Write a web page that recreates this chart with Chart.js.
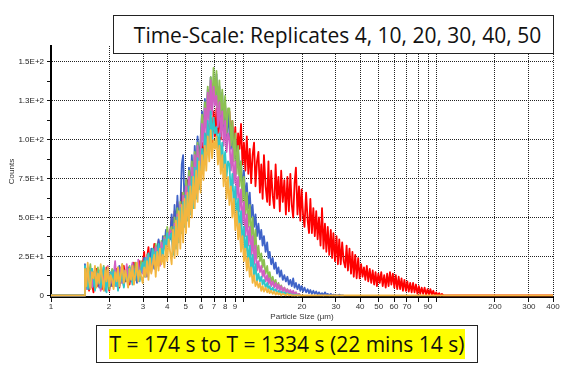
<!DOCTYPE html>
<html>
<head>
<meta charset="utf-8">
<script src="https://cdn.jsdelivr.net/npm/chart.js@4.4.1/dist/chart.umd.min.js"></script>
<style>
  body { margin: 0; background: #fff; width: 570px; height: 371px; overflow: hidden; position: relative; }
  #chart { position: absolute; left: 0; top: 0; }
  .box { position: absolute; box-sizing: border-box; border: 1.5px solid #222; background: #fff;
         display: flex; align-items: center; justify-content: center;
         font-family: "Open Sans", sans-serif; font-size: 21px; color: #111; white-space: nowrap; }
  #titleBox { left: 113px; top: 15px; width: 441px; height: 39px; padding-left: 8px; }
  #timeBox { left: 96px; top: 325px; width: 382px; height: 38px; }
  #timeBox span { background: #ffff00; padding: 1px 1px; }
</style>
</head>
<body>
<canvas id="chart" width="570" height="371"></canvas>
<div class="box" id="titleBox">Time-Scale: Replicates 4, 10, 20, 30, 40, 50</div>
<div class="box" id="timeBox"><span>T = 174 s to T = 1334 s (22 mins 14 s)</span></div>
<script>
// particle size bins (µm)
const sizes = [1.0, 1.49,
  1.50, 1.525, 1.55, 1.575, 1.60, 1.63, 1.66, 1.69, 1.72, 1.75, 1.78, 1.81, 1.84, 1.875, 1.91, 1.94, 1.97, 2.005, 2.04, 2.075,
  2.11, 2.15, 2.19, 2.225, 2.26, 2.30, 2.34, 2.385, 2.43, 2.47, 2.51, 2.555, 2.60, 2.645, 2.69, 2.74, 2.79, 2.835, 2.88, 2.935,
  2.99, 3.04, 3.09, 3.145, 3.20, 3.255, 3.31, 3.37, 3.43, 3.49, 3.55, 3.61, 3.67, 3.735, 3.80, 3.87, 3.94, 4.005, 4.07, 4.145,
  4.22, 4.295, 4.37, 4.445, 4.52, 4.60, 4.68, 4.76, 4.84, 4.925, 5.01, 5.10, 5.19, 5.28, 5.37, 5.465, 5.56, 5.655, 5.75, 5.855,
  5.96, 6.065, 6.17, 6.275, 6.38, 6.495, 6.61, 6.725, 6.84, 6.96, 7.08, 7.205, 7.33, 7.46, 7.59, 7.72, 7.85, 7.99, 8.13, 8.27,
  8.41, 8.56, 8.71, 8.865, 9.02, 9.175, 9.33, 9.495, 9.66, 9.83, 10.0, 10.175, 10.35, 10.535, 10.72, 10.905, 11.09, 11.285, 11.48, 11.685,
  11.89, 12.1, 12.3, 12.5, 12.7, 12.95, 13.2, 13.4, 13.6, 13.85, 14.1, 14.35, 14.6, 14.85, 15.1, 15.35, 15.6, 15.9, 16.2, 16.5,
  16.8, 17.1, 17.4, 17.7, 18.0, 18.3, 18.6, 18.95, 19.3, 19.6, 19.9, 20.25, 20.6, 21.0, 21.4, 21.75, 22.1, 22.5, 22.9, 23.3,
  23.7, 24.1, 24.5, 24.95, 25.4, 25.85, 26.3, 26.75, 27.2, 27.7, 28.2, 28.65, 29.1, 29.65, 30.2, 30.7, 31.2, 31.75, 32.3, 32.9,
  33.5, 34.05, 34.6, 35.25, 35.9, 36.5, 37.1, 37.75, 38.4, 39.1,
  39.8, 40.5, 41.2, 41.9, 42.6, 43.35, 44.1, 44.9, 45.7, 46.5,
  47.3, 48.1, 48.9, 49.75, 50.6, 51.5, 52.4, 53.35, 54.3, 55.25,
  56.2, 57.15, 58.1, 59.15, 60.2, 61.25, 62.3, 63.4, 64.5, 65.6,
  66.7, 67.9, 69.1, 70.3, 71.5, 72.75, 74.0, 75.3, 76.6, 77.95,
  79.3, 80.65, 82.0, 83.45, 84.9, 86.4, 87.9, 89.45, 91.0, 92.6,
  94.2, 95.85, 97.5, 99.25, 101, 102.75, 104.5, 106.25, 108,
  400];

// counts per bin, replicate 4 (red)
const rep4 = [0, 0,
  16, 5, 11, 3, 14, 8, 2, 12, 17, 6, 9, 15, 4, 13, 7, 18, 10, 3, 12, 6,
  14, 8, 17, 10, 5, 15, 12, 19, 9, 13, 18, 7, 16, 11, 21, 13, 17, 10, 22, 15,
  20, 28, 14, 24, 31, 18, 26, 22, 33, 20, 29, 35, 24, 31, 27, 38, 30, 42, 34, 40,
  50, 34, 54, 40, 60, 44, 48, 66, 50, 70, 54, 74, 58, 78, 62, 84, 66, 90, 72, 94,
  84, 98, 86, 104, 90, 110, 94, 114, 98, 118, 102, 120, 104, 116, 100, 120, 106, 122, 104, 116,
  118, 96, 112, 90, 108, 86, 104, 94, 110, 84, 98, 80, 102, 78, 94, 72, 90, 98, 70, 86,
  92, 66, 84, 62, 90, 70, 60, 86, 58, 80, 64, 56, 84, 62, 76, 54, 80, 60, 74, 52,
  76, 54, 78, 58, 50, 72, 82, 52, 70, 48, 68, 52, 44, 66, 48, 40, 62, 40, 56, 38,
  54, 36, 50, 32, 56, 30, 46, 28, 44, 26, 42, 24, 40, 22, 38, 20, 36, 20, 34, 22,
  18, 32, 16, 30, 14, 28, 12, 26, 11, 24,
  11, 20, 12, 18, 10, 19, 9, 17, 8, 16,
  7, 15, 6, 14, 8, 15, 6, 13, 5, 14,
  6, 15, 7, 14, 5, 13, 4, 12, 4, 11,
  3, 10, 3, 9, 2.5, 8, 2, 8, 2, 7,
  1, 6, 1, 5, 1, 5, 0.5, 4, 0.5, 4,
  0.5, 3, 0, 2, 0, 1.5, 0, 1, 0,
  0];

// replicate 10 (blue)
const rep10 = [0, 0,
  20, 7, 14, 4, 12, 17, 6, 13, 9, 16, 5, 11, 15, 8, 3, 13, 18, 9, 6, 14,
  10, 16, 7, 13, 19, 8, 12, 6, 15, 10, 17, 9, 14, 20, 11, 16, 8, 18, 12, 21,
  15, 24, 18, 12, 27, 20, 30, 23, 17, 32, 26, 36, 29, 22, 38, 31, 42, 34, 40, 36,
  52, 36, 58, 42, 64, 46, 54, 84, 90, 56, 74, 58, 82, 66, 90, 70, 96, 80, 102, 86,
  100, 118, 104, 126, 110, 132, 114, 140, 120, 136, 126, 142, 118, 134, 112, 130, 106, 124, 100, 118,
  104, 94, 108, 88, 100, 82, 94, 76, 86, 68, 80, 62, 72, 56, 66, 50, 58, 44, 52, 38,
  46, 36, 42, 32, 38, 28, 34, 24, 28, 20, 24, 17, 21, 14, 18, 12, 16, 10, 13, 9,
  12, 7, 10, 6, 11, 5, 8, 4, 7, 3, 6, 2.5, 5, 2, 4, 1.5, 3.5, 1, 3, 1,
  2.5, 0.5, 2, 0.5, 1.5, 0, 2, 0.5, 1, 0, 1, 0, 0.5, 0, 0, 0, 0.5, 0, 0, 0];

// replicate 20 (green)
const rep20 = [0, 0,
  9, 17, 5, 13, 20, 8, 15, 4, 12, 18, 7, 14, 10, 19, 6, 16, 11, 4, 13, 17,
  8, 15, 11, 18, 6, 14, 20, 10, 16, 9, 13, 19, 12, 17, 8, 21, 14, 18, 11, 22,
  16, 22, 14, 26, 19, 24, 16, 29, 21, 33, 25, 30, 22, 35, 28, 38, 31, 44, 36, 42,
  44, 30, 50, 36, 56, 40, 60, 44, 66, 48, 74, 54, 80, 60, 86, 66, 92, 72, 98, 78,
  96, 116, 100, 124, 108, 134, 114, 140, 122, 146, 126, 144, 120, 138, 116, 132, 110, 128, 104, 120,
  120, 96, 112, 86, 104, 78, 96, 70, 86, 60, 76, 52, 66, 44, 58, 36, 50, 30, 42, 24,
  32, 22, 27, 18, 23, 14, 19, 11, 15, 9, 12, 7, 10, 5, 8, 4, 6.5, 3, 5, 2,
  4, 1.5, 3, 1, 2.5, 0.5, 2, 0, 1, 0];

// replicate 30 (magenta)
const rep30 = [0, 0,
  13, 4, 18, 8, 15, 5, 12, 17, 7, 14, 10, 3, 16, 9, 13, 6, 19, 11, 8, 15,
  12, 22, 6, 14, 10, 18, 8, 16, 11, 20, 7, 15, 12, 21, 9, 17, 13, 23, 10, 18,
  14, 20, 12, 25, 17, 22, 15, 28, 20, 31, 23, 27, 19, 34, 26, 37, 30, 33, 38, 42,
  40, 28, 46, 32, 52, 36, 58, 40, 64, 46, 70, 52, 76, 58, 82, 64, 90, 70, 96, 76,
  90, 110, 96, 120, 104, 130, 110, 138, 116, 134, 122, 128, 108, 124, 102, 118, 96, 112, 92, 104,
  100, 80, 94, 72, 86, 62, 76, 54, 68, 46, 60, 38, 52, 32, 44, 26, 38, 20, 32, 16,
  22, 15, 19, 12, 16, 9, 13, 7, 11, 6, 9, 5, 8, 4, 7, 3, 6, 2.5, 5, 2,
  4, 1.5, 3.5, 1, 3, 0.5, 2, 0, 1, 0];

// replicate 40 (cyan)
const rep40 = [0, 0,
  19, 9, 4, 15, 7, 17, 11, 3, 14, 8, 16, 5, 12, 18, 9, 2, 13, 7, 15, 10,
  16, 6, 13, 3, 14, 9, 17, 5, 15, 11, 8, 18, 12, 7, 16, 10, 20, 13, 9, 17,
  21, 12, 24, 15, 27, 18, 22, 30, 20, 28, 24, 33, 26, 30, 24, 36, 28, 40, 32, 38,
  40, 26, 44, 30, 50, 34, 56, 40, 60, 44, 64, 48, 70, 52, 76, 56, 82, 62, 88, 68,
  74, 94, 80, 104, 88, 112, 92, 118, 100, 114, 104, 108, 94, 104, 88, 98, 82, 92, 76, 86,
  84, 64, 78, 56, 70, 48, 62, 40, 54, 32, 44, 26, 38, 20, 32, 16, 26, 12, 20, 9,
  14, 9, 12, 7, 10, 5, 8, 4, 6, 3, 5, 2.5, 4, 2, 3, 1.5, 2.5, 1, 2, 0.5,
  1.5, 0.5, 1, 0, 0.5, 0, 0.5, 0, 0, 0];

// replicate 50 (orange)
const rep50 = [0, 0,
  17, 6, 21, 9, 4, 15, 11, 19, 5, 14, 8, 20, 12, 3, 16, 9, 18, 6, 13, 10,
  4, 15, 9, 18, 6, 13, 20, 8, 16, 11, 5, 17, 10, 19, 7, 14, 21, 9, 16, 12,
  8, 18, 12, 22, 10, 24, 14, 20, 26, 12, 28, 16, 30, 20, 26, 18, 32, 22, 36, 28,
  20, 42, 24, 48, 26, 54, 30, 58, 34, 62, 40, 66, 44, 70, 50, 76, 56, 80, 60, 86,
  66, 90, 74, 96, 80, 102, 86, 106, 88, 100, 94, 102, 84, 96, 78, 90, 70, 84, 62, 76,
  58, 70, 50, 62, 42, 54, 36, 46, 28, 38, 22, 30, 16, 24, 12, 18, 8, 13, 6, 9,
  5, 8, 3, 6, 2.5, 5, 2, 4, 1.5, 3, 1, 2.5, 0.5, 2, 0.5, 1.5, 0, 1, 0.5, 0,
  1, 0, 0.5, 0, 0, 0, 0, 0, 0, 0, 0, 0, 0, 0, 0, 0, 0, 0, 0, 0,
  0, 0, 0, 0, 0, 0, 0, 0, 0, 0, 0, 0, 0, 0, 0, 0, 0, 0, 0, 0,
  0, 0, 0, 0, 0, 0, 0, 0, 0, 0,
  0, 0, 0, 0, 0, 0, 0, 0, 0, 0,
  0, 0, 0, 0, 0, 0, 0, 0, 0, 0,
  0, 0, 0, 0, 0, 0, 0, 0, 0, 0,
  0, 0, 0, 0, 0, 0, 0, 0, 0, 0,
  0, 0, 0, 0, 0, 0, 0, 0, 0, 0,
  0, 0, 0, 0, 0, 0, 0, 0, 0,
  0];

const seriesNames = ['Replicate 4', 'Replicate 10', 'Replicate 20', 'Replicate 30', 'Replicate 40', 'Replicate 50'];
const seriesValues = [rep4, rep10, rep20, rep30, rep40, rep50];
const seriesColors = ['#ff0000', '#3f63c8', '#8cc152', '#d25fc2', '#2fc7c9', '#f3b63f'];

const xTicks = [1, 2, 3, 4, 5, 6, 7, 8, 9, 10, 20, 30, 40, 50, 60, 70, 80, 90, 100, 200, 300, 400];
const xUnlabelled = [10, 80, 100];
const yTicks = [0, 12.5, 25, 37.5, 50, 62.5, 75, 87.5, 100, 112.5, 125, 137.5, 150];
const yLabels = { 0: '0', 25: '2.5E+1', 50: '5.0E+1', 75: '7.5E+1', 100: '1.0E+2', 125: '1.3E+2', 150: '1.5E+2' };

const datasets = seriesValues.map(function (vals, i) {
  return {
    label: seriesNames[i],
    data: vals.map(function (v, j) { return { x: sizes[j], y: v }; }),
    borderColor: seriesColors[i],
    backgroundColor: seriesColors[i],
    borderWidth: 1.8,
    borderJoinStyle: 'round',
    pointRadius: 0,
    tension: 0,
    order: seriesValues.length - 1 - i
  };
});

const smallFont = { family: '"Liberation Sans", Arial, sans-serif', size: 8 };

new Chart(document.getElementById('chart'), {
  type: 'line',
  data: { datasets: datasets },
  options: {
    responsive: false,
    animation: false,
    layout: { padding: { top: 46, right: 17, left: 0, bottom: 49 } },
    plugins: { legend: { display: false }, tooltip: { enabled: false } },
    scales: {
      x: {
        type: 'logarithmic',
        min: 1,
        max: 400,
        afterBuildTicks: function (scale) { scale.ticks = xTicks.map(function (v) { return { value: v }; }); },
        afterFit: function (scale) { scale.height = 25; },
        ticks: {
          autoSkip: false, maxRotation: 0, padding: 0, color: '#333', font: smallFont,
          callback: function (v) { return xUnlabelled.indexOf(v) >= 0 ? '' : String(v); }
        },
        grid: { color: '#222', lineWidth: 1, tickLength: 5, tickColor: '#111' },
        border: { color: '#000', width: 2, dash: [1, 1] },
        title: { display: true, text: 'Particle Size (µm)', color: '#333', font: smallFont, padding: 0 }
      },
      y: {
        min: -1,
        max: 160,
        afterBuildTicks: function (scale) { scale.ticks = yTicks.map(function (v) { return { value: v }; }); },
        afterFit: function (scale) { scale.width = 51; },
        ticks: {
          autoSkip: false, padding: 3, color: '#222', font: smallFont,
          callback: function (v) { return yLabels[v] !== undefined ? yLabels[v] : ''; }
        },
        grid: {
          lineWidth: 1, tickLength: 4, tickColor: '#111',
          color: function (ctx) {
            const v = ctx.tick ? ctx.tick.value : 0;
            return (v > 0 && v % 25 === 0) ? '#222' : 'rgba(0,0,0,0)';
          }
        },
        border: { color: '#000', width: 2, dash: [1, 1] },
        title: { display: true, text: 'Counts', color: '#333', font: smallFont, padding: { top: 7, bottom: 0 } }
      }
    }
  }
});
</script>
</body>
</html>
